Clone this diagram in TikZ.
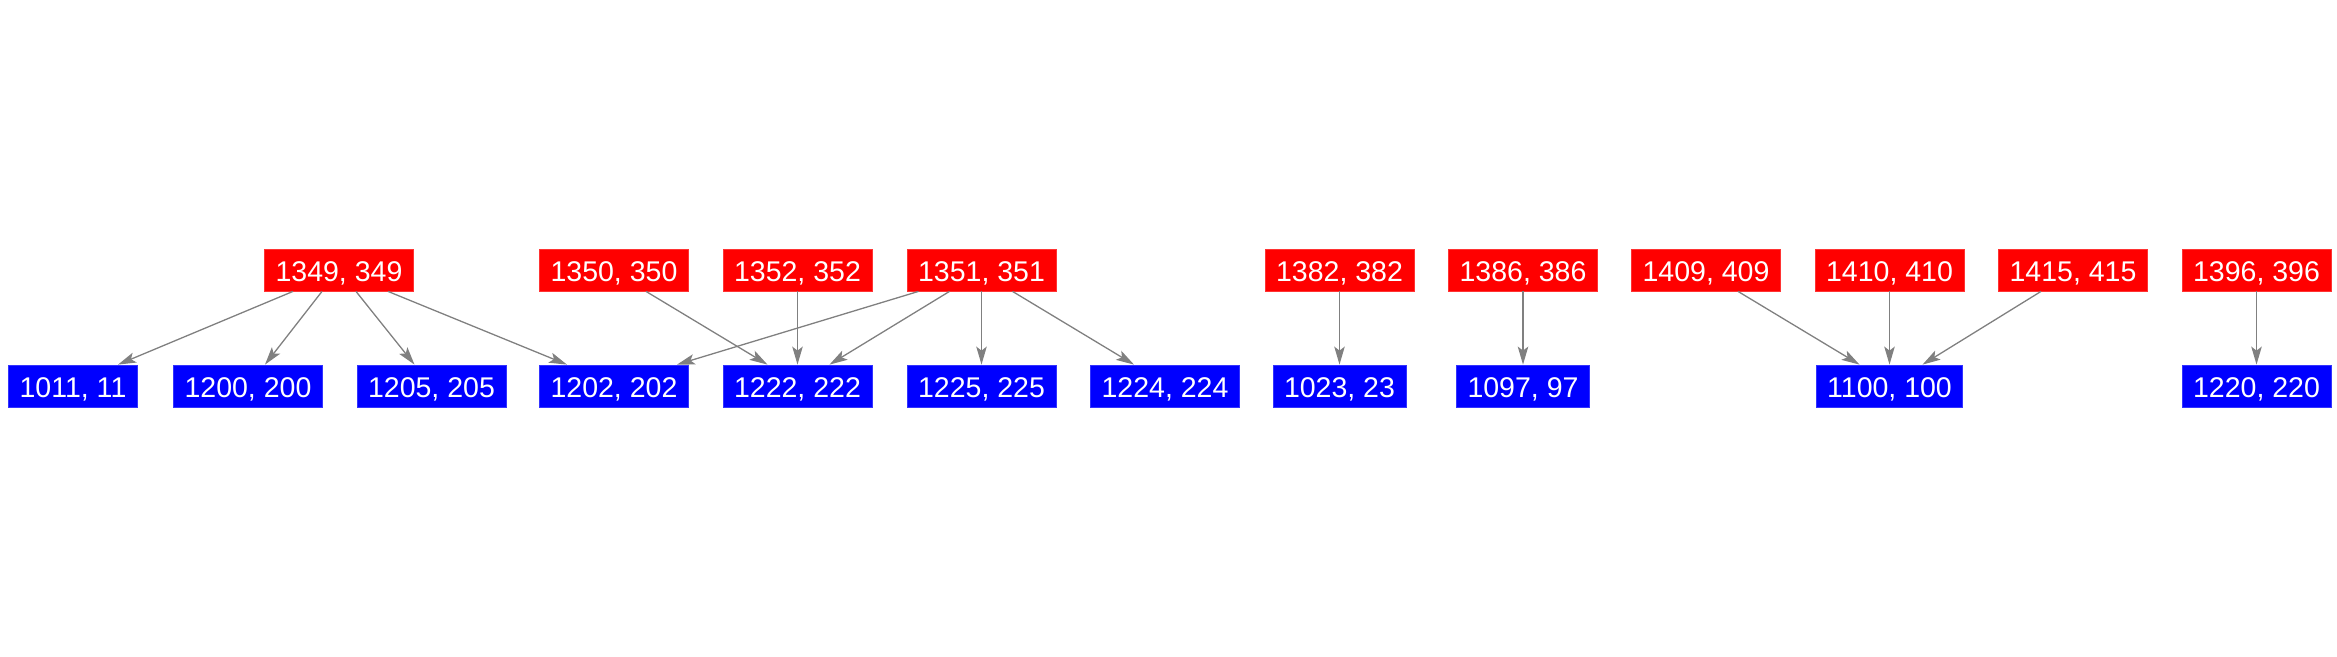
\documentclass[tikz,border=0pt]{standalone}
\usepackage{fontspec}
\setmainfont{Liberation Sans}
\usetikzlibrary{arrows.meta}
\definecolor{edgegray}{RGB}{128,128,128}

\begin{document}
\begin{tikzpicture}[x=1pt, y=-1pt,
        srcbox/.style={rectangle, fill=red, draw=red!80!white, line width=0.8pt, text=white,
                       inner xsep=11pt, inner ysep=0pt, minimum height=42pt,
                       text height=23pt, text depth=0pt,
                       font=\fontsize{28.5}{32}\selectfont},
        dstbox/.style={srcbox, fill=blue, draw=blue!80!white},
        arr/.style={-{Stealth[length=18pt, width=10.5pt, inset=4pt]}, line width=1.3pt, edgegray}
      ]
        \useasboundingbox (0,0) rectangle (2337,656);
        % Upper row
        \node[srcbox] (n1349) at (339,270)    {1349, 349};
        \node[srcbox] (n1350) at (614,270)    {1350, 350};
        \node[srcbox] (n1352) at (797.5,270)  {1352, 352};
        \node[srcbox] (n1351) at (981.5,270)  {1351, 351};
        \node[srcbox] (n1382) at (1339.5,270) {1382, 382};
        \node[srcbox] (n1386) at (1523,270)   {1386, 386};
        \node[srcbox] (n1409) at (1706,270)   {1409, 409};
        \node[srcbox] (n1410) at (1889.5,270) {1410, 410};
        \node[srcbox] (n1415) at (2073,270)   {1415, 415};
        \node[srcbox] (n1396) at (2256.5,270) {1396, 396};
        % Lower row
        \node[dstbox] (n1011) at (73,386)     {1011, 11};
        \node[dstbox] (n1200) at (248,386)    {1200, 200};
        \node[dstbox] (n1205) at (431.5,386)  {1205, 205};
        \node[dstbox] (n1202) at (614,386)    {1202, 202};
        \node[dstbox] (n1222) at (797.5,386)  {1222, 222};
        \node[dstbox] (n1225) at (981.5,386)  {1225, 225};
        \node[dstbox] (n1224) at (1165,386)   {1224, 224};
        \node[dstbox] (n1023) at (1339.5,386) {1023, 23};
        \node[dstbox] (n1097) at (1523,386)   {1097, 97};
        \node[dstbox] (n1100) at (1889.5,386) {1100, 100};
        \node[dstbox] (n1220) at (2256.5,386) {1220, 220};
        % Edges
        \draw[arr] ([xshift=-46pt]n1349.south) -- ([xshift=45pt]n1011.north);
        \draw[arr] ([xshift=-17pt]n1349.south) -- ([xshift=17pt]n1200.north);
        \draw[arr] ([xshift=17pt]n1349.south)  -- ([xshift=-17pt]n1205.north);
        \draw[arr] ([xshift=49pt]n1349.south)  -- ([xshift=-47pt]n1202.north);
        \draw[arr] ([xshift=32pt]n1350.south)  -- ([xshift=-30pt]n1222.north);
        \draw[arr] (n1352.south) -- (n1222.north);
        \draw[arr] ([xshift=-63pt]n1351.south) -- ([xshift=63pt]n1202.north);
        \draw[arr] ([xshift=-32pt]n1351.south) -- ([xshift=32pt]n1222.north);
        \draw[arr] (n1351.south) -- (n1225.north);
        \draw[arr] ([xshift=31pt]n1351.south)  -- ([xshift=-31pt]n1224.north);
        \draw[arr] (n1382.south) -- (n1023.north);
        \draw[arr] (n1386.south) -- (n1097.north);
        \draw[arr] ([xshift=32pt]n1409.south)  -- ([xshift=-30pt]n1100.north);
        \draw[arr] (n1410.south) -- (n1100.north);
        \draw[arr] ([xshift=-32pt]n1415.south) -- ([xshift=33pt]n1100.north);
        \draw[arr] (n1396.south) -- (n1220.north);
      \end{tikzpicture}
\end{document}
